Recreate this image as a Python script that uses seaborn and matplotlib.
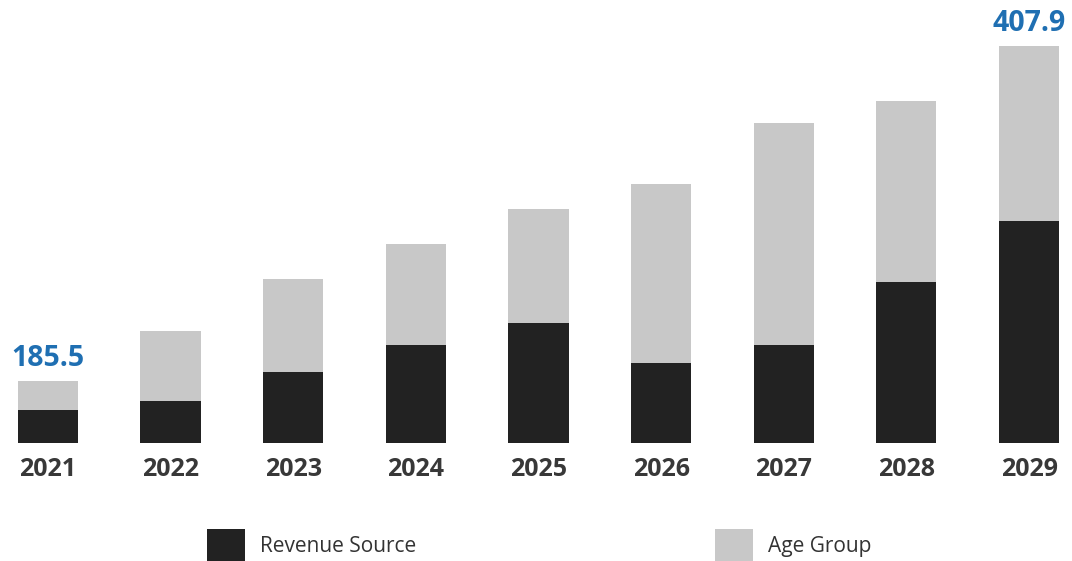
import matplotlib
matplotlib.use("Agg")
import matplotlib.pyplot as plt
import seaborn as sns
import pandas as pd
from matplotlib.patches import Patch

years = ["2021", "2022", "2023", "2024", "2025", "2026", "2027", "2028", "2029"]
revenue_source = [166.2, 172.2, 191.5, 209.4, 224.0, 197.5, 209.4, 251.2, 291.7]
age_group = [19.3, 46.5, 61.7, 67.1, 75.7, 118.8, 147.4, 120.2, 116.2]
series_names = ["Revenue Source", "Age Group"]

totals = [round(r + a, 1) for r, a in zip(revenue_source, age_group)]
df = pd.DataFrame({"year": years, "revenue": revenue_source, "total": totals})

sns.set_theme(style="white")
plt.rcParams["font.family"] = ["Open Sans", "DejaVu Sans"]

dark = "#222222"
light = "#c8c8c8"
blue = "#1f6fb2"

fig = plt.figure(figsize=(10.72, 5.61), dpi=100)
ax = fig.add_axes([0, 118 / 561, 1, 443 / 561])

sns.barplot(data=df, x="year", y="total", order=years, color=light, width=0.49,
            saturation=1, ax=ax, linewidth=0)
sns.barplot(data=df, x="year", y="revenue", order=years, color=dark, width=0.49,
            saturation=1, ax=ax, linewidth=0)

ax.set_ylim(144.3, 438.4)
ax.set_xlim(-0.39, 8.35)
for s in ax.spines.values():
    s.set_visible(False)
ax.set_yticks([])
ax.set_xlabel("")
ax.set_ylabel("")
ax.tick_params(axis="x", length=0, pad=10, labelsize=18, labelcolor="#383838")
for t in ax.get_xticklabels():
    t.set_fontweight("bold")

top = ax.containers[0]
labels = [f"{v:.1f}" if i in (0, len(totals) - 1) else "" for i, v in enumerate(totals)]
ax.bar_label(top, labels=labels, padding=6, fontsize=20.5, fontweight="bold", color=blue)

handles = [Patch(facecolor=dark, edgecolor="none"), Patch(facecolor=light, edgecolor="none")]
fig.legend(handles, series_names, loc="center", bbox_to_anchor=(0.503, 16 / 561), ncol=2,
           frameon=False, fontsize=15, handlelength=1.83, handleheight=2.0,
           handletextpad=0.72, columnspacing=14.3, borderpad=0, labelcolor="#333333")

fig.savefig("out.png", dpi=100)
